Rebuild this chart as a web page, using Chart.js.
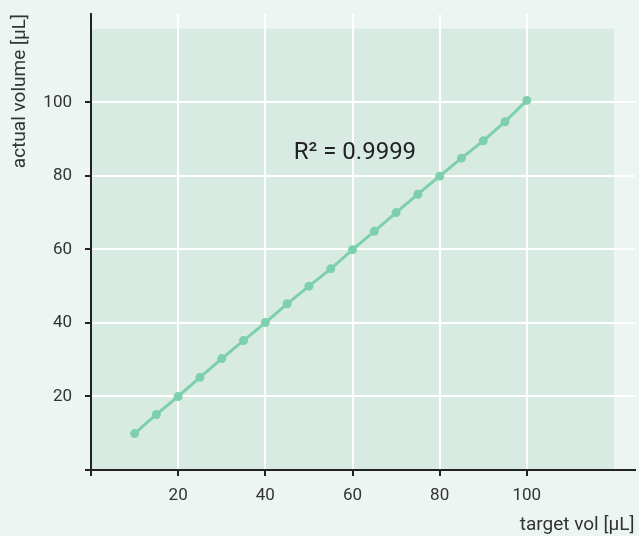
<!DOCTYPE html>
<html>
<head>
<meta charset="utf-8">
<script src="https://cdn.jsdelivr.net/npm/chart.js@4/dist/chart.umd.min.js"></script>
<style>
  html, body { margin: 0; padding: 0; background: #ecf5f1; }
  #wrap { width: 639px; height: 536px; }
</style>
</head>
<body>
<div id="wrap"><canvas id="c" width="639" height="536"></canvas></div>
<script>
const targetVol = [10, 15, 20, 25, 30, 35, 40, 45, 50, 55, 60, 65, 70, 75, 80, 85, 90, 95, 100];
const actualVol = [9.9, 15.1, 20.0, 25.2, 30.3, 35.2, 40.1, 45.2, 50.0, 54.7, 59.9, 64.9, 70.0, 75.0, 79.9, 84.8, 89.5, 94.7, 100.5];
const xTickLabels = [20, 40, 60, 80, 100];
const yTickLabels = [20, 40, 60, 80, 100];
const xTitle = 'target vol [µL]';
const yTitle = 'actual volume [µL]';
const r2Text = 'R² = 0.9999';

const PAGE_BG = '#ecf5f1';
const AREA_BG = '#d7ebe2';
const LINE = '#7ecfad';
const AXIS = '#222222';
const TEXT = '#333333';
const FONT = 'Roboto';

const bgPlugin = {
  id: 'bg',
  beforeDraw(chart) {
    const { ctx, scales: { x, y } } = chart;
    ctx.save();
    ctx.fillStyle = PAGE_BG;
    ctx.fillRect(0, 0, chart.width, chart.height);
    const l = x.getPixelForValue(0), r = x.getPixelForValue(120);
    const t = y.getPixelForValue(120), b = y.getPixelForValue(0);
    ctx.fillStyle = AREA_BG;
    ctx.fillRect(l, t, r - l, b - t);
    ctx.restore();
  },
  afterDatasetsDraw(chart) {
    const { ctx, scales: { x, y } } = chart;
    ctx.save();
    ctx.fillStyle = '#222';
    ctx.font = '24px ' + FONT;
    ctx.textAlign = 'left';
    ctx.textBaseline = 'alphabetic';
    ctx.fillText(r2Text, x.getPixelForValue(46.5), y.getPixelForValue(84.5));
    ctx.restore();
  }
};

const tickSet = [0, 20, 40, 60, 80, 100, 120];

new Chart(document.getElementById('c'), {
  type: 'line',
  data: {
    datasets: [{
      data: targetVol.map((v, i) => ({ x: v, y: actualVol[i] })),
      borderColor: LINE,
      backgroundColor: LINE,
      borderWidth: 3,
      pointRadius: 4.5,
      pointBorderWidth: 0,
      pointBackgroundColor: LINE,
      tension: 0
    }]
  },
  options: {
    responsive: false,
    animation: false,
    events: [],
    layout: { padding: { top: 14, right: 2, left: 0, bottom: 0 } },
    plugins: { legend: { display: false }, tooltip: { enabled: false } },
    scales: {
      x: {
        type: 'linear',
        min: 0,
        max: 124.7,
        afterBuildTicks(scale) { scale.ticks = tickSet.map(v => ({ value: v })); },
        afterFit(scale) { scale.height = 66; scale.paddingLeft = 0; scale.paddingRight = 0; },
        ticks: {
          autoSkip: false,
          maxRotation: 0,
          padding: 10,
          color: TEXT,
          font: { family: FONT, size: 17 },
          callback: v => xTickLabels.includes(v) ? String(v) : ''
        },
        grid: {
          color: c => (c.tick && xTickLabels.includes(c.tick.value)) ? '#ffffff' : 'rgba(0,0,0,0)',
          lineWidth: 2,
          tickLength: 6,
          tickWidth: 2,
          tickColor: c => (c.tick && c.tick.value <= 100) ? AXIS : 'rgba(0,0,0,0)'
        },
        border: { display: true, color: AXIS, width: 2 },
        title: {
          display: true,
          text: xTitle,
          align: 'end',
          color: TEXT,
          font: { family: FONT, size: 19 },
          padding: { top: 0, bottom: -1 }
        }
      },
      y: {
        type: 'linear',
        min: 0,
        max: 124,
        afterBuildTicks(scale) { scale.ticks = tickSet.map(v => ({ value: v })); },
        afterFit(scale) { scale.width = 91; scale.paddingTop = 0; scale.paddingBottom = 0; },
        ticks: {
          autoSkip: false,
          padding: 13,
          color: TEXT,
          font: { family: FONT, size: 17 },
          callback: v => yTickLabels.includes(v) ? String(v) : ''
        },
        grid: {
          color: c => (c.tick && yTickLabels.includes(c.tick.value)) ? '#ffffff' : 'rgba(0,0,0,0)',
          lineWidth: 2,
          tickLength: 6,
          tickWidth: 2,
          tickColor: c => (c.tick && c.tick.value <= 100) ? AXIS : 'rgba(0,0,0,0)'
        },
        border: { display: true, color: AXIS, width: 2 },
        title: {
          display: true,
          text: yTitle,
          align: 'end',
          color: TEXT,
          font: { family: FONT, size: 19 },
          padding: { top: 9, bottom: 0 }
        }
      }
    }
  },
  plugins: [bgPlugin]
});
</script>
</body>
</html>
